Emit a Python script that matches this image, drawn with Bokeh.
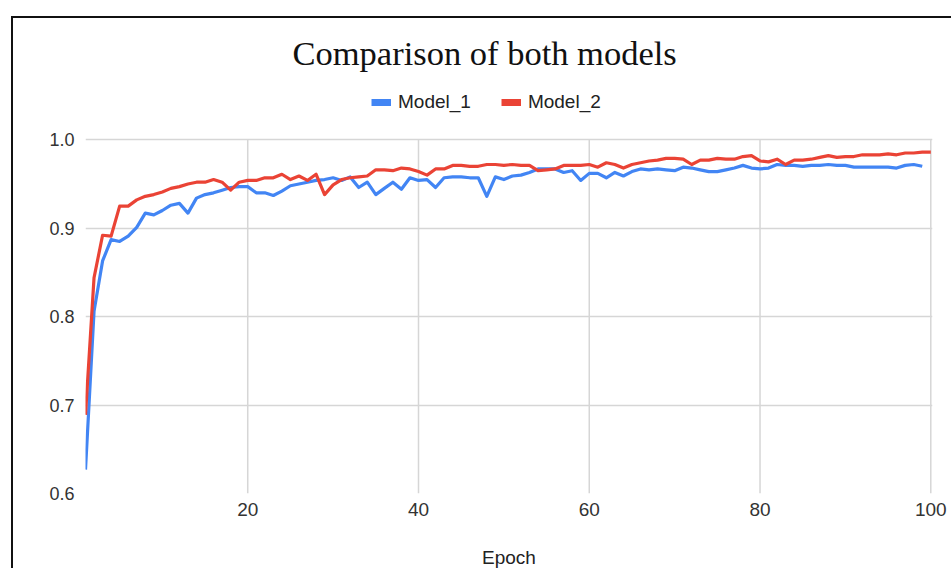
from bokeh.plotting import figure
from bokeh.models import (Legend, LegendItem, FixedTicker, PrintfTickFormatter,
                          Range1d)
from bokeh.embed import file_html
from bokeh.resources import INLINE

# Accuracy per epoch for the two models
model_1 = [
    0.627, 0.806, 0.863, 0.887, 0.885, 0.891, 0.901, 0.917, 0.915, 0.920,
    0.926, 0.928, 0.917, 0.934, 0.938, 0.940, 0.943, 0.946, 0.947, 0.947,
    0.940, 0.940, 0.937, 0.942, 0.948, 0.950, 0.952, 0.954, 0.955, 0.957,
    0.954, 0.958, 0.946, 0.952, 0.938, 0.945, 0.952, 0.944, 0.957, 0.954,
    0.955, 0.946, 0.957, 0.958, 0.958, 0.957, 0.957, 0.936, 0.958, 0.955,
    0.959, 0.960, 0.963, 0.967, 0.967, 0.967, 0.963, 0.965, 0.954, 0.962,
    0.962, 0.957, 0.963, 0.959, 0.964, 0.967, 0.966, 0.967, 0.966, 0.965,
    0.969, 0.968, 0.966, 0.964, 0.964, 0.966, 0.968, 0.971, 0.968, 0.967,
    0.968, 0.972, 0.971, 0.971, 0.970, 0.971, 0.971, 0.972, 0.971, 0.971,
    0.969, 0.969, 0.969, 0.969, 0.969, 0.968, 0.971, 0.972, 0.970,
]
model_2 = [
    0.689, 0.844, 0.892, 0.891, 0.925, 0.925, 0.932, 0.936, 0.938, 0.941,
    0.945, 0.947, 0.950, 0.952, 0.952, 0.955, 0.952, 0.943, 0.952, 0.954,
    0.954, 0.957, 0.957, 0.961, 0.955, 0.959, 0.954, 0.961, 0.938, 0.949,
    0.955, 0.957, 0.958, 0.959, 0.966, 0.966, 0.965, 0.968, 0.967, 0.964,
    0.960, 0.967, 0.967, 0.971, 0.971, 0.970, 0.970, 0.972, 0.972, 0.971,
    0.972, 0.971, 0.971, 0.965, 0.966, 0.967, 0.971, 0.971, 0.971, 0.972,
    0.969, 0.974, 0.972, 0.968, 0.972, 0.974, 0.976, 0.977, 0.979, 0.979,
    0.978, 0.972, 0.977, 0.977, 0.979, 0.978, 0.978, 0.981, 0.982, 0.976,
    0.975, 0.978, 0.972, 0.977, 0.977, 0.978, 0.980, 0.982, 0.980, 0.981,
    0.981, 0.983, 0.983, 0.983, 0.984, 0.983, 0.985, 0.985, 0.986, 0.986,
]
epochs_1 = list(range(1, len(model_1) + 1))
epochs_2 = list(range(1, len(model_2) + 1))

series_names = ["Model_1", "Model_2"]
x_ticks = [20, 40, 60, 80, 100]
y_ticks = [0.6, 0.7, 0.8, 0.9, 1.0]

BLUE = "#4285F4"
RED = "#EA4335"
SANS = "Liberation Sans"
GRID = "#d6d6d6"

# the data area reaches a little above 1.0 so the legend can sit over it
p = figure(width=940, height=552, output_backend="svg", toolbar_location=None,
           x_range=Range1d(1, 100.2), y_range=Range1d(0.6, 1.067),
           min_border_left=72, min_border_right=21,
           min_border_top=62, min_border_bottom=77,
           margin=(16, 0, 0, 11),
           styles={"border-left": "2px solid #111111",
                   "border-top": "2px solid #111111"})
p.background_fill_color = "white"
p.border_fill_color = "white"
p.outline_line_color = None

# title
p.title.text = "Comparison of both models"
p.title.text_font = "Liberation Serif"
p.title.text_font_size = "34.5px"
p.title.text_font_style = "normal"
p.title.text_color = "#111111"
p.title.align = "left"
p.title.offset = 207
p.title.standoff = 18

# axes
for ax in (p.xaxis[0], p.yaxis[0]):
    ax.axis_line_color = None
    ax.major_tick_line_color = None
    ax.minor_tick_line_color = None
    ax.major_label_text_font = SANS
    ax.major_label_text_font_size = "18px"
    ax.major_label_text_color = "#333333"

p.xaxis.ticker = FixedTicker(ticks=x_ticks)
p.xaxis.major_label_text_font_size = "19px"
p.xaxis.major_label_standoff = 3
p.xaxis.axis_label = "Epoch"
p.xaxis.axis_label_text_font = SANS
p.xaxis.axis_label_text_font_size = "19px"
p.xaxis.axis_label_text_font_style = "normal"
p.xaxis.axis_label_text_color = "#222222"
p.xaxis.axis_label_standoff = 28

p.yaxis.ticker = FixedTicker(ticks=y_ticks)
p.yaxis.formatter = PrintfTickFormatter(format="%.1f")
p.yaxis.major_label_standoff = 5

# horizontal grid from the library; vertical grid lines stop at the top tick
p.xgrid.visible = False
p.ygrid.ticker = FixedTicker(ticks=y_ticks)
p.ygrid.grid_line_color = GRID
p.ygrid.grid_line_width = 1.5
p.segment(x0=x_ticks, x1=x_ticks,
          y0=[min(y_ticks)] * len(x_ticks), y1=[max(y_ticks)] * len(x_ticks),
          line_color=GRID, line_width=1.5)

# series
p.line(epochs_1, model_1, line_color=BLUE, line_width=3.2, line_join="round")
p.line(epochs_2, model_2, line_color=RED, line_width=3.2, line_join="round")

# legend swatches: single-point lines draw nothing in the plot,
# but give the legend a thick colour bar
sw1 = p.line(epochs_1[:1], model_1[:1], line_color=BLUE, line_width=7)
sw2 = p.line(epochs_2[:1], model_2[:1], line_color=RED, line_width=7)
legend = Legend(items=[LegendItem(label=series_names[0], renderers=[sw1]),
                       LegendItem(label=series_names[1], renderers=[sw2])],
                orientation="horizontal", location=(286, 380),
                glyph_width=20, glyph_height=20, label_standoff=7, spacing=30,
                padding=0, margin=0, border_line_color=None,
                background_fill_alpha=0,
                label_text_font=SANS, label_text_font_size="19px",
                label_text_color="#222222")
p.add_layout(legend, "center")

open("out.html", "w").write(file_html(p, INLINE))
